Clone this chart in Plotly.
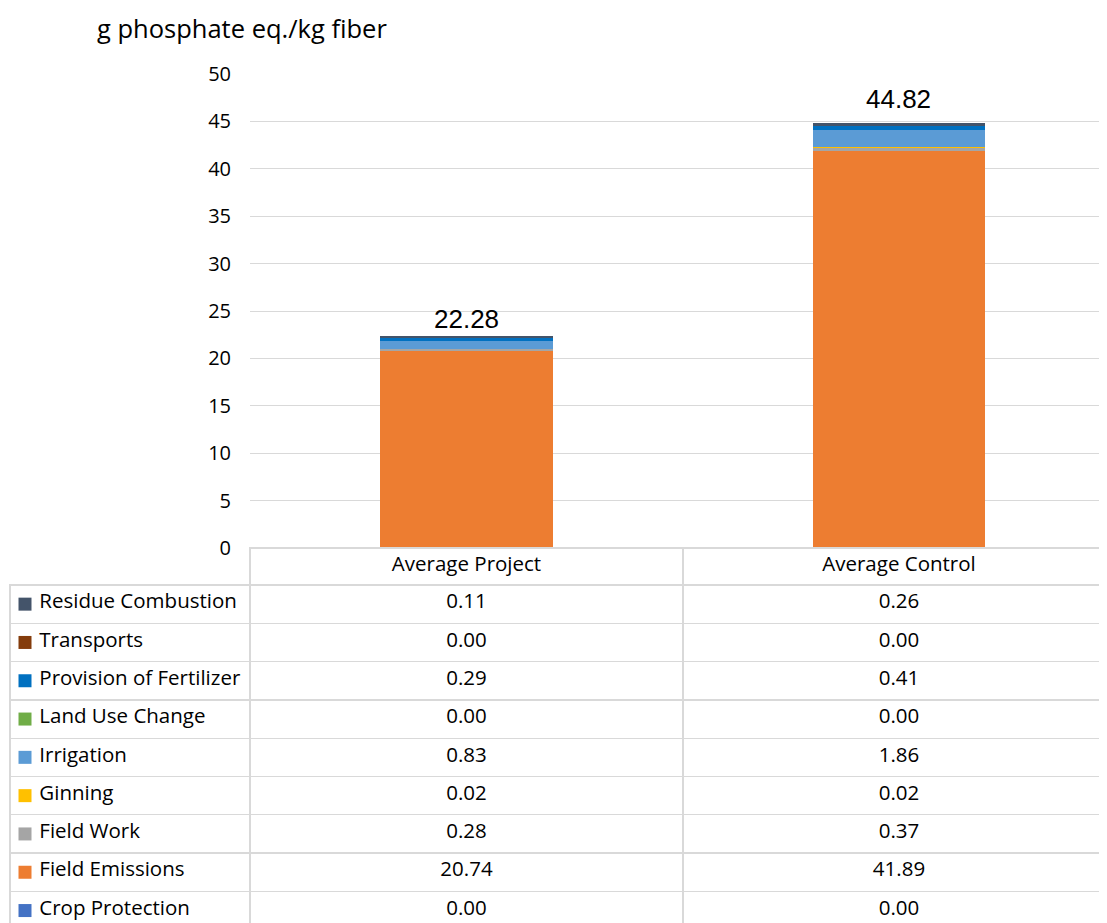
import plotly.graph_objects as go

categories = ["Average Project", "Average Control"]
series_names = ["Crop Protection", "Field Emissions", "Field Work", "Ginning", "Irrigation",
                "Land Use Change", "Provision of Fertilizer", "Transports", "Residue Combustion"]
crop_protection = [0.00, 0.00]
field_emissions = [20.74, 41.89]
field_work = [0.28, 0.37]
ginning = [0.02, 0.02]
irrigation = [0.83, 1.86]
land_use_change = [0.00, 0.00]
provision_fertilizer = [0.29, 0.41]
transports = [0.00, 0.00]
residue_combustion = [0.11, 0.26]
totals = [22.28, 44.82]
y_ticks = [0, 5, 10, 15, 20, 25, 30, 35, 40, 45, 50]

series_values = [crop_protection, field_emissions, field_work, ginning, irrigation,
                 land_use_change, provision_fertilizer, transports, residue_combustion]
colors = ["#4472C4", "#ED7D31", "#A5A5A5", "#FFC000", "#5B9BD5",
          "#70AD47", "#0070C0", "#843C0C", "#44546A"]
label_yshift = [1, 7]

W, H = 1107, 923
OFF = 8  # page body margin offset
FONT = "Open Sans"
GRID = "#D9D9D9"
HEADER_H = 37
ROW_H = 38.3


def fx(p):
    return (p - OFF) / W


def fy(p):
    return 1 - (p - OFF) / H


fig = go.Figure()
for name, vals, col in zip(series_names, series_values, colors):
    fig.add_trace(go.Bar(x=categories, y=vals, name=name, marker_color=col,
                         marker_line_width=0, width=0.4, showlegend=False))

# table (legend + data)
rows_order = list(range(len(series_names)))[::-1]
first_col = ["\u00a0" * 4 + series_names[i].replace(" ", "\u00a0") for i in rows_order]
col1 = [f"{series_values[i][0]:.2f}" for i in rows_order]
col2 = [f"{series_values[i][1]:.2f}" for i in rows_order]

fig.add_trace(go.Table(
    domain=dict(x=[fx(10), 1.0], y=[0, fy(548)]),
    columnwidth=[240, 433, 432],
    header=dict(values=["", categories[0], categories[1]],
                line=dict(color=["rgba(0,0,0,0)", GRID, GRID], width=1.3),
                fill=dict(color=["rgba(0,0,0,0)", "white", "white"]), height=HEADER_H,
                align="center",
                font=dict(family=FONT, size=20.5, color="#000000")),
    cells=dict(values=[first_col, col1, col2],
               line=dict(color=GRID, width=1.3),
               fill=dict(color=["rgba(0,0,0,0)", "white", "white"]), height=ROW_H,
               align=["left", "center", "center"],
               font=dict(family=FONT, size=20.5, color="#000000")),
))

# legend swatches inside the table's first column, placed on a helper axis
body_top = 548 + HEADER_H
body_bot = body_top + 9 * ROW_H
fig.add_trace(go.Scatter(
    x=[0] * len(series_names), y=series_names, mode="markers",
    marker=dict(symbol="square", size=13, color=colors, line=dict(width=0)),
    xaxis="x2", yaxis="y2", showlegend=False, hoverinfo="skip", cliponaxis=False))

annotations = [dict(text="g phosphate eq./kg fiber", x=fx(95), y=fy(28),
                    xref="paper", yref="paper", xanchor="left", yanchor="middle",
                    showarrow=False, font=dict(family=FONT, size=25.5, color="#000000"))]
for cat, tot, ys in zip(categories, totals, label_yshift):
    annotations.append(dict(text=f"{tot:.2f}", x=cat, y=tot, xref="x", yref="y",
                            xanchor="center", yanchor="bottom", yshift=ys, showarrow=False,
                            font=dict(family="Liberation Sans, Arial", size=26, color="#000000")))

fig.update_layout(
    width=W, height=H,
    margin=dict(l=0, r=0, t=0, b=0, autoexpand=False),
    barmode="stack",
    plot_bgcolor="white", paper_bgcolor="white",
    font=dict(family=FONT, size=20, color="#000000"),
    xaxis=dict(domain=[fx(250), 1.0], range=[-0.502, 1.5], showticklabels=False,
               showgrid=False, showline=False, zeroline=False, fixedrange=True,
               automargin=False),
    yaxis=dict(domain=[fy(548), fy(74)], range=[0, 50], tickvals=y_ticks,
               showgrid=True, gridcolor=GRID, gridwidth=1.3,
               zeroline=True, zerolinecolor=GRID, zerolinewidth=1.3,
               showline=False, ticks="", ticklabelstandoff=18, automargin=False,
               tickfont=dict(family=FONT, size=20, color="#000000")),
    xaxis2=dict(domain=[fx(10), fx(40)], range=[-0.5, 0.5], visible=False,
                anchor="y2", automargin=False, fixedrange=True),
    yaxis2=dict(domain=[fy(body_bot), fy(body_top)], type="category",
                categoryorder="array", categoryarray=series_names,
                range=[-0.5, len(series_names) - 0.5], visible=False,
                anchor="x2", automargin=False, fixedrange=True),
    annotations=annotations,
)

fig.write_html("out.html")
